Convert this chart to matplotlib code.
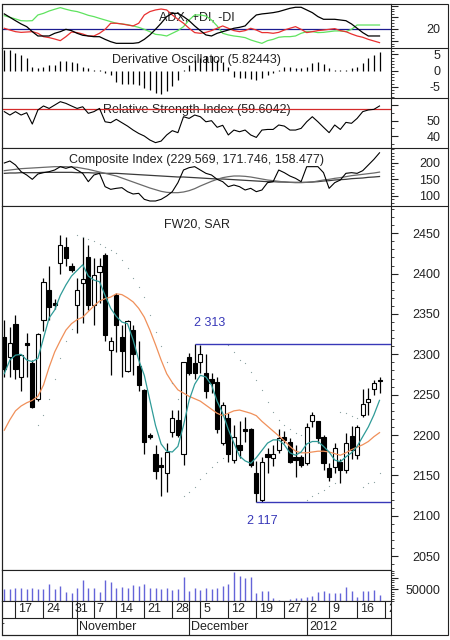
import numpy as np
import matplotlib
matplotlib.use("Agg")
import matplotlib.pyplot as plt
from matplotlib.ticker import MultipleLocator, FixedLocator, FixedFormatter
from matplotlib.lines import Line2D
from matplotlib.patches import Rectangle

plt.rcParams['font.family'] = ['Liberation Sans', 'DejaVu Sans']
plt.rcParams['font.size'] = 9

W, H = 450, 640

# ---------------- data ----------------
opens = [2321, 2297, 2337, 2272, 2314, 2289, 2245, 2343, 2380, 2363,
         2413, 2433, 2409, 2361, 2388, 2421, 2361, 2402, 2423, 2305,
         2374, 2321, 2279, 2330, 2285, 2256, 2200, 2177, 2162, 2153,
         2204, 2219, 2177, 2297, 2289, 2290, 2277, 2269, 2266, 2190,
         2221, 2169, 2188, 2207, 2208, 2153, 2120, 2177, 2172, 2181,
         2197, 2192, 2173, 2173, 2165, 2217, 2217, 2198, 2159, 2161,
         2167, 2157, 2199, 2175, 2225, 2241, 2257, 2268]
highs = [2343, 2334, 2349, 2301, 2326, 2293, 2326, 2394, 2410, 2368,
         2448, 2445, 2413, 2394, 2446, 2436, 2419, 2419, 2425, 2322,
         2376, 2336, 2342, 2336, 2316, 2257, 2203, 2188, 2173, 2190,
         2231, 2231, 2291, 2302, 2313, 2312, 2300, 2277, 2272, 2241,
         2227, 2213, 2217, 2222, 2209, 2168, 2173, 2184, 2188, 2208,
         2205, 2196, 2188, 2175, 2215, 2229, 2218, 2200, 2165, 2190,
         2170, 2202, 2211, 2213, 2257, 2258, 2268, 2272]
lows = [2272, 2272, 2270, 2254, 2272, 2234, 2242, 2329, 2343, 2356,
        2400, 2409, 2402, 2326, 2339, 2355, 2336, 2363, 2316, 2274,
        2303, 2272, 2278, 2274, 2254, 2177, 2195, 2146, 2124, 2130,
        2198, 2198, 2163, 2275, 2270, 2277, 2246, 2252, 2202, 2188,
        2167, 2165, 2171, 2192, 2161, 2117, 2117, 2153, 2162, 2178,
        2190, 2165, 2148, 2160, 2163, 2210, 2190, 2157, 2143, 2153,
        2140, 2153, 2170, 2170, 2222, 2225, 2250, 2252]
closes = [2282, 2314, 2282, 2299, 2311, 2235, 2325, 2390, 2359, 2361,
          2436, 2419, 2405, 2380, 2393, 2361, 2398, 2409, 2324, 2316,
          2336, 2304, 2341, 2300, 2262, 2192, 2197, 2155, 2161, 2179,
          2221, 2200, 2290, 2277, 2277, 2300, 2254, 2265, 2208, 2237,
          2177, 2198, 2182, 2205, 2163, 2128, 2167, 2173, 2176, 2196,
          2194, 2167, 2169, 2163, 2210, 2225, 2196, 2165, 2148, 2184,
          2157, 2190, 2182, 2210, 2239, 2245, 2264, 2267]
ma_fast = [2276, 2293, 2299, 2300, 2293, 2291, 2295, 2320, 2345, 2355,
           2373, 2386, 2397, 2404, 2411, 2397, 2392, 2390, 2373, 2357,
           2347, 2340, 2338, 2318, 2293, 2274, 2243, 2212, 2189, 2180,
           2179, 2186, 2212, 2243, 2263, 2274, 2272, 2262, 2242, 2227,
           2207, 2190, 2174, 2168, 2165, 2172, 2181, 2190, 2194, 2194,
           2188, 2178, 2175, 2179, 2189, 2192, 2192, 2186, 2179, 2169,
           2167, 2173, 2178, 2186, 2198, 2210, 2225, 2243]
ma_slow = [2206, 2219, 2230, 2236, 2240, 2243, 2248, 2262, 2284, 2303,
           2317, 2330, 2338, 2343, 2346, 2353, 2360, 2366, 2369, 2371,
           2375, 2374, 2370, 2365, 2357, 2346, 2330, 2312, 2293, 2276,
           2265, 2256, 2252, 2248, 2245, 2242, 2237, 2232, 2227, 2224,
           2227, 2230, 2231, 2229, 2227, 2224, 2217, 2211, 2205, 2199,
           2193, 2186, 2180, 2178, 2178, 2179, 2180, 2180, 2179, 2177,
           2175, 2178, 2182, 2185, 2188, 2192, 2198, 2203]
nan = np.nan
sar = [nan, nan, nan, nan, nan, nan, 2213, 2225, 2245, 2270,
       2295, 2316, 2332, 2448, 2446, 2443, 2440, 2437, 2433, 2429,
       2425, 2417, 2407, 2394, 2384, 2371, 2349, 2328, 2310, 2290,
       2265, 2245, 2124, 2130, 2136, 2145, 2153, 2160, 2166, 2172,
       2312, 2303, 2293, 2289, 2278, 2268, 2256, 2241, 2229, 2219,
       2212, 2207, 2203, 2200, 2120, 2124, 2128, 2132, 2137, 2141,
       2229, 2227, 2224, 2221, 2136, 2140, 2142, 2153]
volume = [51300, 51300, 56900, 56900, 51300, 54000, 51300, 51300, 72600, 51300,
          62700, 39900, 34200, 56900, 89700, 56900, 56900, 37000, 89700, 82700,
          54000, 61000, 56900, 68400, 65500, 71200, 56900, 56900, 51300, 56900,
          47000, 51300, 104000, 42700, 54000, 47000, 56900, 51300, 56900, 65400,
          72600, 122000, 105000, 98000, 104000, 33000, 42700, 42700, 11500, 3000,
          1000, 8500, 11500, 14000, 18500, 22600, 37000, 42700, 33000, 33000,
          33000, 61000, 42700, 18500, 42700, 42700, 47000, 25600]
plus_di = [31.4, 30.0, 28.6, 27.1, 26.9, 27.1, 32.0, 33.4, 35.4, 36.9,
           38.3, 36.9, 35.7, 34.9, 33.4, 31.7, 30.6, 29.1, 27.7, 26.3,
           24.9, 24.3, 23.7, 22.6, 21.4, 19.7, 17.7, 15.4, 14.9, 14.0,
           16.3, 18.6, 22.0, 27.7, 32.0, 32.0, 31.1, 27.7, 22.6, 16.3,
           14.9, 14.0, 13.4, 12.6, 10.6, 9.1, 7.7, 10.0, 11.1, 12.9,
           13.4, 13.4, 14.0, 16.3, 17.7, 17.7, 16.9, 17.1, 17.7, 18.3,
           18.3, 17.7, 19.7, 23.4, 23.4, 23.4, 23.4, 23.4]
minus_di = [20.6, 19.1, 17.7, 17.1, 17.4, 17.7, 16.3, 13.4, 12.6, 11.4,
            10.0, 13.4, 17.4, 16.9, 15.7, 14.0, 14.0, 16.3, 19.7, 24.9,
            24.9, 24.3, 23.4, 22.6, 24.9, 32.0, 34.9, 36.3, 37.1, 36.3,
            32.0, 28.3, 24.9, 20.6, 16.9, 16.3, 17.1, 18.6, 20.6, 22.6,
            20.6, 18.6, 17.7, 18.6, 20.6, 19.1, 16.9, 16.9, 16.3, 17.1,
            19.1, 20.6, 22.0, 19.7, 16.9, 17.7, 18.6, 19.1, 19.7, 20.3,
            18.6, 17.7, 15.7, 14.0, 12.9, 11.1, 9.7, 8.3]
adx = [32.9, 30.0, 27.1, 24.3, 22.0, 17.7, 14.0, 14.0, 14.0, 16.3,
       17.7, 19.7, 18.6, 16.3, 14.6, 14.0, 13.4, 13.4, 11.1, 9.1,
       7.7, 7.7, 7.7, 7.7, 8.3, 11.1, 14.9, 19.7, 24.9, 30.6,
       33.4, 33.4, 30.6, 27.1, 22.6, 18.6, 14.9, 14.0, 16.3, 17.7,
       19.1, 20.6, 21.4, 22.6, 27.7, 32.0, 32.9, 33.4, 34.0, 34.9,
       36.3, 37.7, 38.6, 38.6, 36.3, 34.0, 30.6, 28.3, 28.3, 28.3,
       27.7, 27.1, 24.3, 20.6, 16.9, 14.0, 14.0, 14.0]
deriv_osc = [6.5, 6.5, 5.4, 4.9, 3.8, 1.2, 0.7, 1.2, 1.8, 1.8,
             3.1, 3.1, 2.8, 2.3, 1.2, 0.7, 0.2, 0.1, -0.8, -1.4,
             -3.5, -4.0, -4.0, -4.0, -4.5, -5.5, -6.0, -6.9, -7.1, -6.3,
             -4.8, -2.9, 0.2, 1.8, 3.3, 3.8, 4.4, 4.4, 3.3, 2.8,
             1.2, -1.9, -2.4, -2.4, -2.7, -2.9, -2.4, -1.4, -0.6, 0.2,
             1.2, 1.2, 0.7, 0.7, 1.2, 2.3, 2.8, 2.1, 0.7, 0.2,
             0.1, 0.1, 0.7, 1.2, 2.3, 3.8, 4.9, 5.82]
rsi = [55.9, 53.7, 55.9, 53.7, 55.2, 47.8, 57.0, 59.6, 58.0, 60.2,
       62.4, 61.3, 59.6, 58.0, 59.1, 54.8, 55.9, 58.0, 49.3, 48.7,
       50.9, 48.7, 46.5, 43.9, 41.7, 40.0, 37.4, 35.7, 36.7, 40.7,
       43.5, 42.2, 52.6, 51.5, 53.7, 52.6, 49.3, 50.0, 45.7, 47.0,
       40.7, 43.9, 42.8, 43.9, 40.7, 39.1, 43.9, 44.3, 44.3, 47.2,
       46.5, 43.9, 43.9, 45.0, 49.3, 52.6, 49.3, 45.7, 42.2, 47.2,
       44.3, 48.9, 48.3, 51.5, 55.9, 57.0, 57.4, 59.6]
rsi_level = 57.6
composite = [199, 205, 193, 173, 163, 150, 166, 170, 173, 178,
             188, 183, 188, 178, 168, 143, 163, 168, 128, 120,
             123, 125, 113, 106, 108, 90, 85, 85, 90, 100,
             113, 140, 178, 185, 188, 178, 168, 163, 150, 143,
             128, 133, 128, 118, 123, 113, 118, 140, 143, 178,
             170, 160, 153, 143, 188, 188, 188, 170, 123, 140,
             148, 168, 170, 168, 176, 193, 210, 229.6]
comp_fast = [176, 178, 180, 182, 183, 184, 185, 186, 187, 188,
             188, 188, 187, 186, 183, 180, 176, 172, 168, 164,
             160, 154, 148, 142, 136, 130, 124, 119, 114, 111,
             110, 110, 112, 116, 122, 130, 137, 144, 150, 155,
             158, 160, 160, 159, 157, 154, 151, 148, 146, 144,
             142, 141, 140, 140, 141, 142, 145, 148, 150, 153,
             155, 158, 161, 163, 165, 167, 169, 171.7]
comp_slow = [168, 169, 169, 170, 170, 170, 170, 171, 171, 171,
             171, 171, 171, 170, 170, 170, 169, 169, 168, 168,
             168, 167, 166, 165, 164, 163, 162, 161, 160, 159,
             158, 157, 157, 156, 155, 154, 153, 152, 151, 151,
             150, 149, 148, 147, 146, 145, 144, 143, 143, 142,
             142, 141, 141, 141, 141, 142, 143, 145, 146, 148,
             149, 150, 152, 153, 154, 156, 157, 158.5]

swing_high, swing_high_bar = 2313, 34
swing_low, swing_low_bar = 2117, 45

day_tick_bars = [2, 7, 12, 16, 20, 25, 30, 35, 40, 45, 50, 54, 58, 63, 68]
day_tick_labels = ['17', '24', '31', '7', '14', '21', '28', '5', '12', '19',
                   '27', '2', '9', '16', '23']
month_bars = [-8.3, 13, 33, 54]
month_labels = ['October', 'November', 'December', '2012']

# ---------------- layout ----------------
x = np.arange(len(closes))
XL = (-0.41, 69.05)
PLOT_L, PLOT_R = 2, 391
LINE = '#222222'

fig = plt.figure(figsize=(W / 100, H / 100), dpi=100)


def px_axes(y0, y1, x0=PLOT_L, x1=PLOT_R):
    ax = fig.add_axes([x0 / W, 1 - y1 / H, (x1 - x0) / W, (y1 - y0) / H])
    ax.set_xlim(*XL)
    ax.set_xticks([])
    for s in ax.spines.values():
        s.set_color(LINE)
        s.set_linewidth(0.8)
    return ax


def right_axis(ax, major, labels, minor):
    ax.yaxis.tick_right()
    ax.yaxis.set_major_locator(FixedLocator(major))
    ax.yaxis.set_major_formatter(FixedFormatter(labels))
    ax.yaxis.set_minor_locator(MultipleLocator(minor))
    ax.tick_params(axis='y', which='major', direction='out', length=5,
                   width=0.8, pad=30.5, labelsize=9, colors=LINE)
    ax.tick_params(axis='y', which='minor', direction='out', length=2.5,
                   width=0.6, colors=LINE)
    for lab in ax.get_yticklabels():
        lab.set_horizontalalignment('right')


def title(ax, s, yfrac):
    ax.text(0.5, yfrac, s, transform=ax.transAxes, ha='center', va='center',
            fontsize=9, color='#222222', zorder=1)


# ADX panel
ax1 = px_axes(4, 48)
ax1.set_ylim(3.7, 41.4)
ax1.axhline(20, color='#1c1c90', lw=0.9)
ax1.plot(x, plus_di, color='#5fe35f', lw=0.9)
ax1.plot(x, minus_di, color='#e83030', lw=0.9)
ax1.plot(x, adx, color='black', lw=0.9)
right_axis(ax1, [10, 20, 30, 40], ['', '20', '', ''], 2.5)
title(ax1, 'ADX, +DI, -DI', 0.7)

# Derivative oscillator
ax2 = px_axes(48, 98)
ax2.set_ylim(-8.45, 7.0)
ax2.vlines(x, 0, deriv_osc, color='black', lw=0.9)
right_axis(ax2, [-5, 0, 5], ['-5', '0', '5'], 1)
title(ax2, 'Derivative Oscillator (5.82443)', 0.76)

# RSI
ax3 = px_axes(98, 148)
ax3.set_ylim(32.2, 64.8)
ax3.axhline(rsi_level, color='#d42a2a', lw=0.9)
ax3.plot(x, rsi, color='black', lw=0.8)
right_axis(ax3, [40, 50, 60], ['40', '50', ''], 5)
title(ax3, 'Relative Strength Index (59.6042)', 0.76)

# Composite index
ax4 = px_axes(148, 206)
ax4.set_ylim(70, 244)
ax4.plot(x, comp_slow, color='#3a3a3a', lw=0.9)
ax4.plot(x, comp_fast, color='#6a6a6a', lw=0.9)
ax4.plot(x, composite, color='black', lw=0.8)
right_axis(ax4, [100, 150, 200], ['100', '150', '200'], 10)
title(ax4, 'Composite Index (229.569, 171.746, 158.477)', 0.79)

# Price panel
ax5 = px_axes(206, 570)
ax5.set_ylim(2032.8, 2483.8)
o = np.array(opens, float)
c = np.array(closes, float)
up = c >= o
ax5.vlines(x, lows, highs, color='black', lw=0.9, zorder=2)
ax5.bar(x, np.maximum(np.abs(c - o), 1.3), bottom=np.minimum(o, c), width=0.72,
        color=np.where(up, 'white', 'black'), edgecolor='black', linewidth=0.8,
        zorder=3)
ax5.plot(x, ma_slow, color='#f0905a', lw=0.9, zorder=4)
ax5.plot(x, ma_fast, color='#2f9b98', lw=0.9, zorder=4)
ax5.plot(x, sar, ls='none', marker='o', ms=0.9, mew=0, color='#8aa0a0',
         zorder=4)
ax5.hlines(swing_high, swing_high_bar, XL[1], color='#3838b8', lw=1, zorder=5)
ax5.hlines(swing_low, swing_low_bar, XL[1], color='#3838b8', lw=1, zorder=5)
ax5.text(swing_high_bar - 0.1, 2339, '2 313', color='#3838b8', fontsize=9,
         ha='left', va='center')
ax5.text(swing_low_bar - 1.7, 2093, '2 117', color='#3838b8', fontsize=9,
         ha='left', va='center')
right_axis(ax5, list(range(2050, 2451, 50)),
           [str(v) for v in range(2050, 2451, 50)], 10)
title(ax5, 'FW20, SAR', 0.948)

# Volume
ax6 = px_axes(570, 601)
ax6.set_ylim(0, 132500)
ax6.vlines(x, 0, volume, color='#6464d8', lw=1)
right_axis(ax6, [50000, 100000], ['50000', ''], 10000)

# Date rows
ax7 = px_axes(601, 635)
ax7.set_ylim(0, 2)
ax7.set_yticks([])
ax7.axhline(1, color=LINE, lw=0.8)
ax7.vlines(day_tick_bars, 1, 2, color=LINE, lw=0.8)
ax7.vlines(month_bars, 0, 2, color=LINE, lw=0.8)
for b, lab in zip(day_tick_bars, day_tick_labels):
    ax7.text(b + 0.5, 1.5, lab, fontsize=9, ha='left', va='center',
             color='#222222', clip_on=True)
for b, lab in zip(month_bars, month_labels):
    ax7.text(b + 0.4, 0.5, lab, fontsize=9, ha='left', va='center',
             color='#222222', clip_on=True)

# separators that run into the label column, and the outer frame
for yy in (48, 98, 148, 206):
    fig.add_artist(Line2D([PLOT_R / W, 448 / W], [1 - yy / H, 1 - yy / H],
                          transform=fig.transFigure, color=LINE, lw=0.8))
fig.add_artist(Rectangle((2 / W, 1 - 635 / H), 446 / W, 631 / H, fill=False,
                         transform=fig.transFigure, edgecolor=LINE, lw=0.8))

fig.savefig('out.png', dpi=100)
